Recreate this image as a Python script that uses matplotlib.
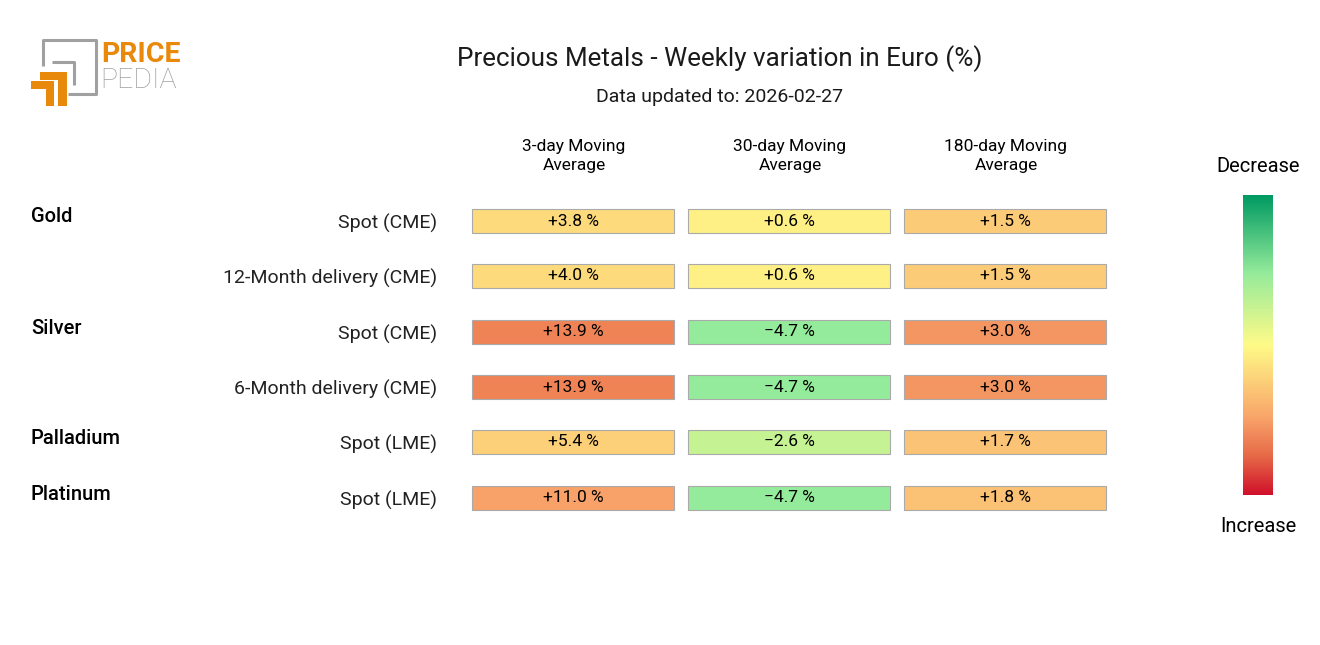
import numpy as np
import matplotlib
matplotlib.use("Agg")
import matplotlib.pyplot as plt
import matplotlib.patches as patches
from matplotlib.colors import LinearSegmentedColormap

plt.rcParams['font.family'] = ['Roboto', 'DejaVu Sans']

title = "Precious Metals - Weekly variation in Euro (%)"
subtitle = "Data updated to: 2026-02-27"
columns = ["3-day Moving\nAverage", "30-day Moving\nAverage", "180-day Moving\nAverage"]
groups = ["Gold", "", "Silver", "", "Palladium", "Platinum"]
rows = ["Spot (CME)", "12-Month delivery (CME)", "Spot (CME)",
        "6-Month delivery (CME)", "Spot (LME)", "Spot (LME)"]
ma3 = [3.8, 4.0, 13.9, 13.9, 5.4, 11.0]
ma30 = [0.6, 0.6, -4.7, -4.7, -2.6, -4.7]
ma180 = [1.5, 1.5, 3.0, 3.0, 1.7, 1.8]

# colour scale per column (value giving full red / full green)
scales = [22.0, 9.8, 5.5]

cmap = LinearSegmentedColormap.from_list("pp", [
    (0.0, "#d0112b"), (0.13, "#e76a48"), (0.26, "#f9a56a"), (0.5, "#fffb88"),
    (0.74, "#95eb9b"), (1.0, "#009a62")])

W, H = 1320, 645
fig = plt.figure(figsize=(W / 100, H / 100), dpi=100)
ax = fig.add_axes([0, 0, 1, 1])
ax.set_xlim(0, W)
ax.set_ylim(H, 0)
ax.axis('off')

col_left = [472, 688, 904]
col_w = 202
row_y = [221, 276, 332, 387, 442, 498]

for ci, vals in enumerate([ma3, ma30, ma180]):
    cols = [cmap(np.clip(0.5 - v / (2 * scales[ci]), 0, 1)) for v in vals]
    ax.barh(row_y, col_w, left=col_left[ci], height=24, color=cols,
            edgecolor='#aaaaaa', linewidth=0.8)
    for y, v in zip(row_y, vals):
        s = f"+{v:.1f} %" if v >= 0 else f"\u2212{abs(v):.1f} %"
        ax.text(col_left[ci] + col_w / 2, y, s, ha='center', va='center',
                fontsize=12.5, color='black')
    ax.text(col_left[ci] + col_w / 2 + 1, 156, columns[ci], ha='center', va='center',
            fontsize=12.5, linespacing=1.35)

for y, g, r in zip(row_y, groups, rows):
    ax.text(437, y + 2, r, ha='right', va='center', fontsize=14, color='#222222')
    if g:
        ax.text(31, y - 4, g, ha='left', va='center', fontsize=14.5, fontweight='medium')

ax.text(720, 59, title, ha='center', va='center', fontsize=18.7, color='#1a1a1a')
ax.text(720, 97, subtitle, ha='center', va='center', fontsize=14, color='#1a1a1a')

# colour bar
cax = fig.add_axes([1243 / W, 1 - 495 / H, 30 / W, 300 / H])
grad = np.linspace(1, 0, 256).reshape(-1, 1)
cax.imshow(grad, aspect='auto', cmap=cmap, vmin=0, vmax=1)
cax.axis('off')
ax.text(1258, 166, "Decrease", ha='center', va='center', fontsize=14.5)
ax.text(1258, 526, "Increase", ha='center', va='center', fontsize=14.5)

# logo
gray = '#a0a0a0'
orange = '#e8890c'
ax.plot([43, 43, 96, 96, 68], [66, 40, 40, 94, 94], color=gray, lw=2.2, solid_capstyle='butt')
ax.plot([52, 74, 74], [62, 62, 85], color=gray, lw=2.2, solid_capstyle='butt')
ax.add_patch(patches.Polygon([[40, 72], [67, 72], [67, 106], [58, 106], [58, 80], [40, 80]],
                             closed=True, color=orange, lw=0))
ax.add_patch(patches.Polygon([[31, 81], [54, 81], [54, 106], [46, 106], [46, 89], [31, 89]],
                             closed=True, color=orange, lw=0))
ax.text(101, 54, "PRICE", ha='left', va='center', fontsize=20.5, fontweight='bold', color=orange)
ax.text(100, 80, "PEDIA", ha='left', va='center', fontsize=20.5, fontweight='light', color=gray)

fig.savefig("out.png", dpi=100)
